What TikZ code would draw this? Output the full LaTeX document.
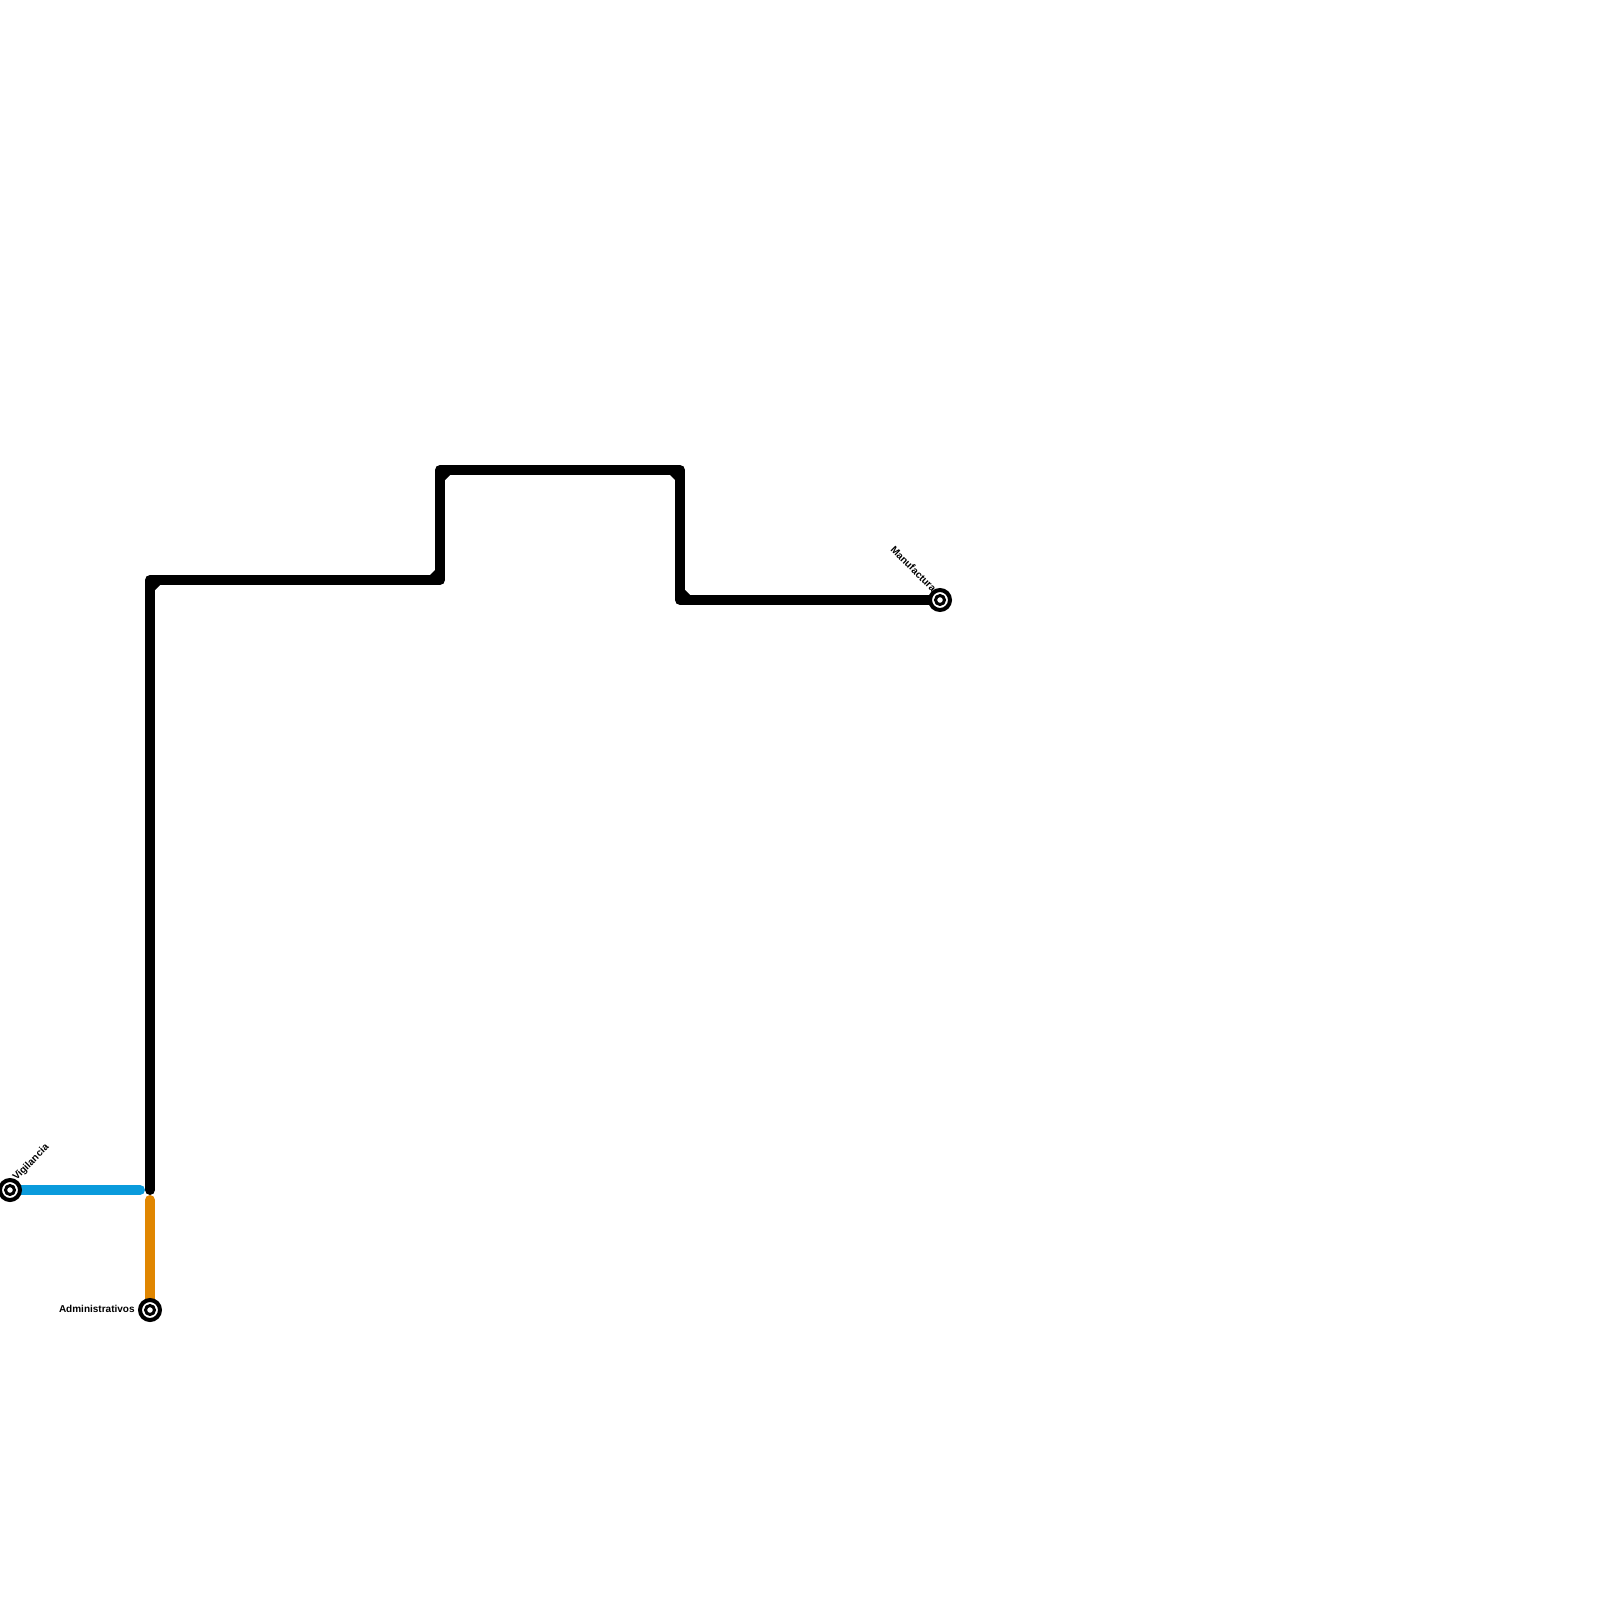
\documentclass[tikz,border=0pt]{standalone}
\usepackage{fontspec}
\setmainfont{Liberation Sans}
\tikzset{
  x=0.5pt, y=-0.5pt,
  lineseg/.style={line width=5pt, line cap=round, line join=round},
  fillet/.style={fill=black, draw=none},
  stationring/.style={circle, draw=black, fill=white, line width=2pt, minimum size=10pt, inner sep=0pt, outer sep=0pt},
  stationdot/.style={circle, draw=black, fill=white, line width=1.5pt, minimum size=4.5pt, inner sep=0pt},
  lbl/.style={font=\fontsize{5}{6}\selectfont\bfseries, inner sep=0pt, text=black}
}
\definecolor{bluel}{HTML}{0A9BDC}
\definecolor{orangel}{HTML}{E08600}
\begin{document}
\begin{tikzpicture}
\useasboundingbox (0,0) rectangle (1600,1600);
\fill[white] (0,0) rectangle (1600,1600);
\coordinate (c1) at (150,1190);
\coordinate (c2) at (150,580);
\coordinate (c3) at (440,580);
\coordinate (c4) at (440,470);
\coordinate (c5) at (680,470);
\coordinate (c6) at (680,600);
\coordinate (bend) at (140,1190);
\coordinate (ostart) at (150,1200);
\coordinate (vig) at (10,1190);
\coordinate (adm) at (150,1310);
\coordinate (man) at (940,600);
\draw[lineseg, black] (c1) -- (c2) -- (c3) -- (c4) -- (c5) -- (c6) -- (man);
\draw[lineseg, bluel] (vig) -- (bend);
\draw[lineseg, orangel] (ostart) -- (adm);
\fill[fillet] (155,585) -- (160,585) -- (155,590) -- cycle;
\fill[fillet] (435,575) -- (430,575) -- (435,570) -- cycle;
\fill[fillet] (445,475) -- (450,475) -- (445,480) -- cycle;
\fill[fillet] (675,475) -- (670,475) -- (675,480) -- cycle;
\fill[fillet] (685,595) -- (690,595) -- (685,590) -- cycle;
\node[stationring] (s1) at (vig) {};
\node[stationdot] at (vig) {};
\node[stationring] (s2) at (adm) {};
\node[stationdot] at (adm) {};
\node[stationring] (s3) at (man) {};
\node[stationdot] at (man) {};
\node[lbl, anchor=south west, rotate=45] (l1) at (18,1183) {Vigilancia};
\node[lbl, anchor=east] (l2) at (135,1309) {Administrativos};
\node[lbl, anchor=south east, rotate=-45] (l3) at (932,593) {Manufactura};
\end{tikzpicture}
\end{document}
